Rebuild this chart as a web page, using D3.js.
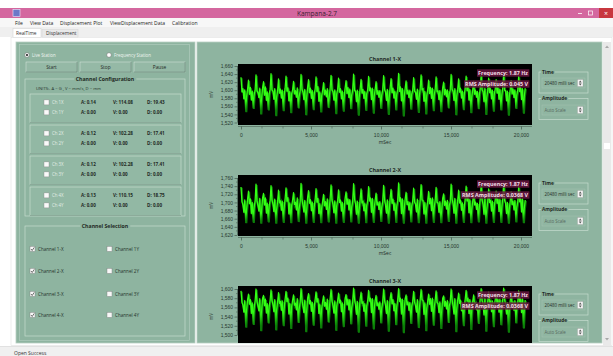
<!DOCTYPE html>
<html><head><meta charset="utf-8">
<script src="https://cdn.jsdelivr.net/npm/d3@7"></script>
<style>
html,body{margin:0;padding:0;background:#fff;overflow:hidden;}
svg{display:block;font-family:"Open Sans","Noto Sans",sans-serif;}
</style></head><body>
<svg id="app" width="613" height="356"></svg>
<script>
// ---------- data ----------
const windowTitle = "Kampana-2.7";
const menuItems = ["File", "View Data", "Displacement Plot", "ViewDisplacement Data", "Calibration"];
const tabNames = ["RealTime", "Displacement"];
const stationModes = ["Live Station", "Frequency Station"];
const controlButtons = ["Start", "Stop", "Pause"];
const unitsNote = "UNITS:-  A = G ,  V = mm/s,  D = mm";

const configChannels = ["Ch 1X", "Ch 1Y", "Ch 2X", "Ch 2Y", "Ch 3X", "Ch 3Y", "Ch 4X", "Ch 4Y"];
const accelG =       [0.14, 0.00, 0.12, 0.00, 0.12, 0.00, 0.13, 0.00];
const velocityMms =  [114.08, 0.00, 102.28, 0.00, 102.28, 0.00, 110.15, 0.00];
const displaceMm =   [19.43, 0.00, 17.41, 0.00, 17.41, 0.00, 18.75, 0.00];

const selectX = ["Channel 1-X", "Channel 2-X", "Channel 3-X", "Channel 4-X"];
const selectY = ["Channel 1Y", "Channel 2Y", "Channel 3Y", "Channel 4Y"];
const selectXChecked = [true, true, true, true];
const selectYChecked = [false, false, false, false];

const chartTitles = ["Channel 1-X", "Channel 2-X", "Channel 3-X"];
const frequencyHz = ["1.87", "1.87", "1.87"];
const rmsVolts = ["0.045", "0.0368", "0.0368"];
const timeWindow = "20480 milli sec";
const amplitudeMode = "Auto Scale";

const xTickValues = [0, 5000, 10000, 15000, 20000];
const xMinorTicks = [1500, 3000, 6500, 8000, 11500, 13000, 16500, 18000];
const yTicks1 = [1520, 1540, 1560, 1580, 1600, 1620, 1640, 1660];
const yTicks2 = [1620, 1640, 1660, 1680, 1700, 1720, 1740, 1760];
const yTicks3 = [1500, 1520, 1540, 1560, 1580, 1600];

const sampleStepMs = 67;

// Channel 1-X samples (mV)
const ch1X = [
1632,1596,1604,1579,1601,1548,1584,1603, 1625,1590,1607,1576,1598,1556,1588,1600,
1638,1599,1594,1582,1605,1542,1580,1606, 1621,1588,1608,1575,1596,1552,1590,1602,
1641,1602,1597,1578,1604,1538,1583,1599, 1628,1593,1603,1581,1600,1550,1587,1605,
1635,1598,1606,1574,1597,1545,1591,1601, 1622,1591,1599,1583,1606,1557,1585,1598,
1639,1603,1595,1577,1602,1540,1582,1607, 1626,1594,1605,1580,1599,1553,1589,1603,
1633,1597,1609,1573,1596,1547,1586,1600, 1619,1589,1600,1584,1604,1558,1581,1605,
1637,1601,1596,1576,1601,1543,1590,1602, 1630,1595,1604,1579,1598,1549,1584,1606,
1624,1592,1607,1582,1603,1555,1588,1599, 1640,1600,1598,1572,1600,1539,1583,1604,
1627,1593,1602,1580,1597,1551,1591,1601, 1634,1599,1606,1577,1605,1544,1585,1603,
1621,1590,1599,1583,1599,1556,1587,1600, 1636,1602,1596,1575,1602,1541,1582,1607,
1629,1594,1605,1581,1598,1552,1589,1602, 1642,1597,1608,1574,1604,1537,1584,1605,
1623,1591,1600,1582,1600,1554,1590,1599, 1631,1598,1595,1578,1603,1546,1583,1604,
1638,1601,1604,1573,1597,1542,1586,1601, 1625,1592,1607,1580,1605,1550,1588,1603,
1633,1596,1598,1577,1599,1548,1581,1606, 1620,1589,1602,1584,1601,1557,1591,1600,
1639,1603,1597,1575,1604,1540,1585,1602, 1628,1595,1605,1581,1598,1553,1589,1605,
1635,1599,1609,1576,1602,1545,1583,1601, 1622,1590,1600,1583,1597,1555,1587,1604,
1637,1602,1596,1572,1605,1541,1582,1599, 1630,1594,1604,1579,1600,1549,1590,1603,
1626,1593,1606,1578,1603,1552,1586,1606, 1640,1600,1599,1574,1598,1539,1584,1602,
1624,1591,1603,1582,1601,1556,1588,1600, 1634,1597,1607,1577,1604,1544,1585,1605
];

// Channel 2-X samples (mV)
const ch2X = [
1738,1702,1694,1676,1706,1651,1684,1708, 1728,1697,1709,1673,1700,1652,1688,1704,
1745,1705,1692,1679,1710,1650,1681,1711, 1722,1694,1711,1674,1698,1653,1690,1705,
1741,1707,1696,1678,1708,1650,1683,1702, 1730,1699,1704,1681,1703,1652,1687,1709,
1736,1703,1712,1672,1699,1651,1692,1706, 1724,1695,1700,1682,1711,1654,1685,1701,
1747,1708,1693,1677,1705,1650,1680,1712, 1729,1698,1707,1680,1701,1652,1689,1707,
1734,1701,1710,1673,1697,1651,1686,1703, 1720,1692,1702,1683,1709,1653,1682,1710,
1743,1706,1695,1675,1704,1650,1691,1705, 1731,1700,1706,1679,1700,1652,1684,1711,
1726,1696,1709,1682,1707,1653,1688,1702, 1746,1709,1697,1671,1703,1650,1683,1708,
1733,1699,1703,1680,1698,1651,1692,1704, 1739,1704,1711,1676,1710,1652,1685,1706,
1723,1694,1701,1683,1702,1654,1687,1701, 1742,1707,1694,1674,1706,1650,1681,1712,
1732,1698,1708,1681,1699,1652,1690,1705, 1748,1703,1712,1673,1709,1650,1684,1709,
1725,1695,1702,1682,1701,1653,1691,1703, 1735,1701,1696,1677,1708,1651,1683,1707,
1744,1706,1705,1672,1700,1650,1686,1704, 1727,1697,1710,1680,1711,1652,1688,1706,
1737,1700,1699,1676,1702,1651,1681,1710, 1721,1693,1703,1684,1705,1654,1692,1701,
1745,1709,1697,1674,1710,1650,1685,1705, 1730,1699,1706,1681,1699,1652,1689,1708,
1740,1704,1712,1675,1707,1651,1683,1703, 1724,1694,1701,1683,1698,1653,1687,1709,
1743,1707,1695,1671,1711,1650,1682,1702, 1733,1700,1705,1679,1703,1652,1690,1707,
1728,1698,1708,1678,1708,1652,1686,1711, 1746,1706,1698,1673,1700,1650,1684,1704,
1726,1695,1703,1682,1705,1653,1688,1701, 1738,1702,1710,1677,1709,1651,1685,1706
];

// Channel 3-X samples (mV)
const ch3X = [
1596,1571,1565,1550,1575,1518,1555,1577, 1589,1567,1577,1547,1570,1524,1559,1574,
1600,1574,1563,1553,1579,1510,1552,1580, 1586,1564,1578,1548,1568,1527,1561,1575,
1598,1576,1566,1551,1577,1512,1554,1572, 1592,1569,1573,1554,1574,1521,1558,1578,
1595,1573,1580,1546,1569,1515,1562,1576, 1587,1565,1569,1555,1579,1528,1556,1571,
1601,1577,1562,1549,1576,1508,1551,1580, 1590,1568,1575,1552,1571,1522,1560,1577,
1594,1572,1579,1547,1567,1516,1557,1573, 1585,1563,1571,1556,1578,1529,1553,1579,
1599,1575,1564,1548,1574,1511,1562,1575, 1591,1570,1576,1551,1570,1519,1555,1580,
1588,1566,1578,1555,1577,1525,1559,1572, 1602,1578,1566,1545,1573,1507,1554,1578,
1593,1569,1572,1552,1568,1520,1563,1574, 1597,1574,1580,1549,1579,1514,1556,1576,
1586,1564,1570,1556,1572,1527,1558,1571, 1600,1576,1565,1547,1575,1509,1552,1580,
1592,1568,1577,1553,1569,1523,1561,1576, 1601,1573,1580,1546,1578,1506,1555,1579,
1587,1566,1572,1554,1571,1526,1562,1573, 1595,1572,1564,1550,1577,1517,1553,1577,
1599,1577,1575,1545,1570,1510,1557,1574, 1589,1567,1579,1552,1580,1522,1559,1576,
1596,1571,1568,1549,1572,1515,1552,1580, 1585,1563,1573,1557,1575,1528,1563,1571,
1600,1578,1563,1546,1579,1508,1556,1576, 1591,1569,1576,1553,1569,1521,1560,1578,
1597,1574,1580,1547,1577,1513,1554,1573, 1587,1565,1570,1555,1568,1526,1558,1579,
1601,1576,1566,1544,1580,1509,1553,1572, 1593,1570,1574,1551,1574,1519,1562,1577,
1590,1568,1577,1550,1578,1523,1557,1580, 1602,1577,1567,1546,1570,1507,1555,1575,
1588,1564,1572,1554,1575,1527,1559,1571, 1596,1572,1579,1549,1579,1516,1556,1576
];

const channelSeries = [ch1X, ch2X, ch3X];
const channelYTicks = [yTicks1, yTicks2, yTicks3];

// ---------- styling ----------
const PANEL = "#8eb4a0";
const PANEL_LIGHT = "#c6dccf";
const PANEL_DARK = "#6d917e";
const TEXT = "#1f2a24";
const TRACE_BRIGHT = "#33ff14";
const TRACE_DARK = "#0b7d08";

const svg = d3.select("#app");
const defs = svg.append("defs");

// window chrome
svg.append("rect").attr("width", 613).attr("height", 356).attr("fill", "#ffffff");
svg.append("rect").attr("x", 0).attr("y", 8).attr("width", 613).attr("height", 10).attr("fill", "#d4679f");
svg.append("rect").attr("x", 13).attr("y", 9.5).attr("width", 7).attr("height", 7).attr("fill", "#6d78c8").attr("stroke", "#e8e8ff").attr("stroke-width", 0.6);
svg.append("text").attr("x", 297).attr("y", 15.8).attr("font-size", 6.5).attr("fill", "#3a2030").text(windowTitle);
svg.append("line").attr("x1", 578).attr("x2", 582).attr("y1", 13.5).attr("y2", 13.5).attr("stroke", "#fff").attr("stroke-width", 0.8);
svg.append("rect").attr("x", 588.5).attr("y", 11).attr("width", 4).attr("height", 4).attr("fill", "none").attr("stroke", "#fff").attr("stroke-width", 0.7);
svg.append("rect").attr("x", 599).attr("y", 8).attr("width", 14).attr("height", 10).attr("fill", "#c8373f");
svg.append("text").attr("x", 606).attr("y", 15.5).attr("font-size", 7).attr("text-anchor", "middle").attr("fill", "#fff").text("\u00d7");

// menu bar
svg.append("rect").attr("x", 0).attr("y", 18).attr("width", 613).attr("height", 9).attr("fill", "#f7f7f7");
const menuX = [15, 30, 60, 110, 172];
svg.selectAll("text.menu").data(menuItems).join("text").attr("class", "menu")
  .attr("x", (d, i) => menuX[i]).attr("y", 24.5).attr("font-size", 5).attr("fill", "#222").text(d => d);

// tab strip
svg.append("rect").attr("x", 0).attr("y", 27).attr("width", 613).attr("height", 10).attr("fill", "#efefef");
svg.append("rect").attr("x", 13).attr("y", 28.5).attr("width", 28).attr("height", 9).attr("fill", "#ffffff").attr("stroke", "#cfcfcf").attr("stroke-width", 0.5);
svg.append("rect").attr("x", 42).attr("y", 29.5).attr("width", 36).attr("height", 8).attr("fill", "#e9e9e9").attr("stroke", "#d4d4d4").attr("stroke-width", 0.5);
const tabX = [16, 46];
svg.selectAll("text.tab").data(tabNames).join("text").attr("class", "tab")
  .attr("x", (d, i) => tabX[i]).attr("y", 34.8).attr("font-size", 4.8).attr("fill", "#333").text(d => d);

// content frame
svg.append("rect").attr("x", 11).attr("y", 37.5).attr("width", 601).attr("height", 308).attr("fill", "#ffffff").attr("stroke", "#dadada").attr("stroke-width", 0.5);

// status bar
svg.append("rect").attr("x", 0).attr("y", 346).attr("width", 613).attr("height", 10).attr("fill", "#f0f0f0");
svg.append("line").attr("x1", 0).attr("x2", 613).attr("y1", 346.5).attr("y2", 346.5).attr("stroke", "#d6d6d6").attr("stroke-width", 0.6);
svg.append("text").attr("x", 14).attr("y", 354.5).attr("font-size", 5).attr("fill", "#333").text("Open Success");

// ---------- left control panel ----------
const left = svg.append("g");
left.append("rect").attr("x", 16).attr("y", 42).attr("width", 179).attr("height", 301).attr("fill", PANEL).attr("stroke", "#b9cfc3").attr("stroke-width", 0.8);
left.append("rect").attr("x", 19.5).attr("y", 44.5).attr("width", 170).attr("height", 296).attr("fill", "none").attr("stroke", PANEL_LIGHT).attr("stroke-width", 0.6).attr("opacity", 0.7);

// station radio buttons
const radioX = [27, 109];
stationModes.forEach((m, i) => {
  left.append("circle").attr("cx", radioX[i]).attr("cy", 55).attr("r", 2.3).attr("fill", "#fff").attr("stroke", "#6f6f6f").attr("stroke-width", 0.5);
  if (i === 0) left.append("circle").attr("cx", radioX[i]).attr("cy", 55).attr("r", 1.1).attr("fill", "#222");
  left.append("text").attr("x", radioX[i] + 5).attr("y", 56.7).attr("font-size", 4.4).attr("fill", "#eef5f0").text(m);
});

// buttons
const btnX = [26, 80, 134];
controlButtons.forEach((b, i) => {
  left.append("rect").attr("x", btnX[i]).attr("y", 62).attr("width", 51).attr("height", 10).attr("fill", "#95b9a6").attr("stroke", "#dbe8e0").attr("stroke-width", 0.5);
  left.append("line").attr("x1", btnX[i]).attr("x2", btnX[i] + 51).attr("y1", 72).attr("y2", 72).attr("stroke", "#4f6f5f").attr("stroke-width", 0.6);
  left.append("line").attr("x1", btnX[i] + 51).attr("x2", btnX[i] + 51).attr("y1", 62).attr("y2", 72).attr("stroke", "#4f6f5f").attr("stroke-width", 0.6);
  left.append("text").attr("x", btnX[i] + 25.5).attr("y", 68.8).attr("font-size", 4.8).attr("text-anchor", "middle").attr("fill", "#1e2a24").text(b);
});

function groupBox(g, x, y, w, h, label, bold) {
  g.append("rect").attr("x", x).attr("y", y).attr("width", w).attr("height", h).attr("fill", "none").attr("stroke", PANEL_LIGHT).attr("stroke-width", 0.7);
  if (label) {
    const t = g.append("text").attr("x", x + w / 2).attr("y", y + 1.8).attr("font-size", bold ? 5.2 : 4.8)
      .attr("font-weight", bold ? 700 : 400).attr("text-anchor", "middle").attr("fill", TEXT).text(label);
    const bb = t.node().getBBox();
    g.insert("rect", () => t.node()).attr("x", bb.x - 1.5).attr("y", y - 1).attr("width", bb.width + 3).attr("height", 2).attr("fill", PANEL);
  }
}

groupBox(left, 25, 79, 160, 137, "Channel Configuration", true);
left.append("text").attr("x", 36).attr("y", 90).attr("font-size", 4.2).attr("fill", "#26342c").text(unitsNote);

const subBoxY = [94, 125, 156, 187];
subBoxY.forEach((by, k) => {
  left.append("rect").attr("x", 30).attr("y", by).attr("width", 151).attr("height", 28.5).attr("fill", "#92b8a4").attr("stroke", PANEL_LIGHT).attr("stroke-width", 0.7);
  left.append("line").attr("x1", 30).attr("x2", 181).attr("y1", by + 28.5).attr("y2", by + 28.5).attr("stroke", PANEL_DARK).attr("stroke-width", 0.6);
  [0, 1].forEach(r => {
    const idx = k * 2 + r;
    const ry = by + 8.5 + r * 10;
    left.append("rect").attr("x", 44).attr("y", ry - 2.6).attr("width", 5).attr("height", 5).attr("fill", "#fafafa").attr("stroke", "#888").attr("stroke-width", 0.4);
    left.append("text").attr("x", 52).attr("y", ry + 1.6).attr("font-size", 4.4).attr("fill", "#e3eee7").text(configChannels[idx]);
    left.append("text").attr("x", 81).attr("y", ry + 1.6).attr("font-size", 4.6).attr("font-weight", 700).attr("fill", TEXT).text("A: " + accelG[idx].toFixed(2));
    left.append("text").attr("x", 113).attr("y", ry + 1.6).attr("font-size", 4.6).attr("font-weight", 700).attr("fill", TEXT).text("V: " + velocityMms[idx].toFixed(2));
    left.append("text").attr("x", 147).attr("y", ry + 1.6).attr("font-size", 4.6).attr("font-weight", 700).attr("fill", TEXT).text("D: " + displaceMm[idx].toFixed(2));
  });
});

groupBox(left, 25, 226, 160, 110, "Channel Selection", true);
const selRowY = [249, 271, 294, 315];
function checkbox(g, x, y, checked, label) {
  g.append("rect").attr("x", x).attr("y", y - 2.6).attr("width", 5).attr("height", 5).attr("fill", "#f8f8f8").attr("stroke", "#7a7a7a").attr("stroke-width", 0.4);
  if (checked) g.append("path").attr("d", `M${x + 1},${y} L${x + 2.2},${y + 1.5} L${x + 4.2},${y - 1.6}`).attr("fill", "none").attr("stroke", "#333").attr("stroke-width", 0.7);
  g.append("text").attr("x", x + 8).attr("y", y + 1.6).attr("font-size", 4.6).attr("fill", "#26342c").text(label);
}
selectX.forEach((lab, i) => checkbox(left, 30, selRowY[i], selectXChecked[i], lab));
selectY.forEach((lab, i) => checkbox(left, 107, selRowY[i], selectYChecked[i], lab));

// ---------- right chart panel ----------
const panelBottom = 343;
svg.append("rect").attr("x", 197).attr("y", 42).attr("width", 405).attr("height", 301).attr("fill", PANEL).attr("stroke", "#b9cfc3").attr("stroke-width", 0.8);
defs.append("clipPath").attr("id", "panelClip")
  .append("rect").attr("x", 197).attr("y", 42).attr("width", 405).attr("height", panelBottom - 42);
const right = svg.append("g").attr("clip-path", "url(#panelClip)");

// scrollbar
svg.append("rect").attr("x", 603).attr("y", 42).attr("width", 8).attr("height", 304).attr("fill", "#e9e9e9");
svg.append("path").attr("d", "M605,48 L607,45.5 L609,48 Z").attr("fill", "#a8a8a8");
svg.append("path").attr("d", "M605,338 L607,340.5 L609,338 Z").attr("fill", "#a8a8a8");
svg.append("rect").attr("x", 604).attr("y", 143).attr("width", 6).attr("height", 6).attr("fill", "#ffffff");

function groupBoxLeft(g, x, y, w, h, label) {
  g.append("rect").attr("x", x).attr("y", y).attr("width", w).attr("height", h).attr("fill", "none").attr("stroke", PANEL_LIGHT).attr("stroke-width", 0.7);
  const t = g.append("text").attr("x", x + 3).attr("y", y + 1.8).attr("font-size", 4.8).attr("font-weight", 700).attr("fill", TEXT).text(label);
  const bb = t.node().getBBox();
  g.insert("rect", () => t.node()).attr("x", bb.x - 1).attr("y", y - 1).attr("width", bb.width + 2).attr("height", 2).attr("fill", PANEL);
}
function spinBox(g, x, y, label, color) {
  g.append("rect").attr("x", x).attr("y", y).attr("width", 43).attr("height", 10).attr("fill", "#90b6a2").attr("stroke", "#a9c6b6").attr("stroke-width", 0.4);
  g.append("text").attr("x", x + 2.5).attr("y", y + 6.6).attr("font-size", 4.4).attr("fill", color).text(label);
  g.append("rect").attr("x", x + 35.5).attr("y", y + 1.5).attr("width", 5.5).attr("height", 7).attr("fill", "#f4f4f4").attr("stroke", "#9a9a9a").attr("stroke-width", 0.3);
  g.append("path").attr("d", `M${x + 36.8},${y + 4.4} L${x + 38.25},${y + 2.6} L${x + 39.7},${y + 4.4} Z M${x + 36.8},${y + 5.6} L${x + 38.25},${y + 7.4} L${x + 39.7},${y + 5.6} Z`).attr("fill", "#555");
}

const xScale = d3.scaleLinear().domain([0, 20000]).range([241, 521]);
const plotLeft = 238, plotRight = 532, plotH = 61;
const chartTop = [64, 175, 286];
// pixel ranges of each chart's value axis (first and last tick)
const yRanges = [[122.5, 66], [235, 178], [335, 289]];
// trace colour shades from bright (upper level) to dark green (lower level), in mV
const shadeLevels = [[1574, 1550], [1674, 1654], [1550, 1520]];

channelSeries.forEach((series, ci) => {
  const top = chartTop[ci];
  const ticks = channelYTicks[ci];
  const g = right.append("g");
  const yScale = d3.scaleLinear().domain([ticks[0], ticks[ticks.length - 1]]).range(yRanges[ci]);

  g.append("text").attr("x", 385).attr("y", top - 3.2).attr("font-size", 5.4).attr("font-weight", 700)
    .attr("text-anchor", "middle").attr("fill", TEXT).text(chartTitles[ci]);

  g.append("rect").attr("x", plotLeft).attr("y", top).attr("width", plotRight - plotLeft).attr("height", plotH).attr("fill", "#000");

  // y axis
  const yMinor = d3.range(ticks[0] + 10, ticks[ticks.length - 1], 20);
  const yAxis = d3.axisLeft(yScale).tickValues(ticks).tickFormat(d3.format(",")).tickSize(3).tickPadding(1.5);
  const ya = g.append("g").attr("transform", `translate(${plotLeft - 0.5},0)`).call(yAxis);
  ya.selectAll("text").attr("font-size", 4.9).attr("fill", "#26342c");
  ya.selectAll("line").attr("stroke", "#26342c").attr("stroke-width", 0.5);
  ya.select(".domain").attr("stroke", "#26342c").attr("stroke-width", 0.5).attr("d", `M0,${yScale(ticks[0])}V${yScale(ticks[ticks.length - 1])}`);
  g.selectAll("line.ymin").data(yMinor).join("line").attr("class", "ymin")
    .attr("x1", plotLeft - 2).attr("x2", plotLeft - 0.5).attr("y1", d => yScale(d)).attr("y2", d => yScale(d))
    .attr("stroke", "#26342c").attr("stroke-width", 0.4);

  g.append("text").attr("transform", `translate(213,${top + plotH / 2}) rotate(-90)`).attr("font-size", 4.8)
    .attr("text-anchor", "middle").attr("fill", TEXT).text("mV");

  // x axis (only where it is within the visible part of the panel)
  const axisY = top + plotH + 1.5;
  if (axisY + 20 < panelBottom) {
    const xAxis = d3.axisBottom(xScale).tickValues(xTickValues).tickFormat(d3.format(",")).tickSize(3).tickPadding(4);
    const xa = g.append("g").attr("transform", `translate(0,${axisY})`).call(xAxis);
    xa.selectAll("text").attr("font-size", 5).attr("fill", "#26342c");
    xa.selectAll("line").attr("stroke", "#26342c").attr("stroke-width", 0.5);
    xa.select(".domain").attr("stroke", "#26342c").attr("stroke-width", 0.4).attr("d", `M${plotLeft},0H${plotRight}`);
    g.selectAll("line.xmin").data(xMinorTicks).join("line").attr("class", "xmin")
      .attr("x1", d => xScale(d)).attr("x2", d => xScale(d)).attr("y1", axisY).attr("y2", axisY + 2)
      .attr("stroke", "#26342c").attr("stroke-width", 0.4);
    g.append("text").attr("x", 385).attr("y", axisY + 17.5).attr("font-size", 5).attr("text-anchor", "middle").attr("fill", TEXT).text("mSec");
  }

  // signal trace
  const pts = series.map((v, i) => [i * sampleStepMs, v]);
  const line = d3.line().x(d => xScale(d[0])).y(d => yScale(d[1]));
  const clipId = "plotClip" + ci;
  defs.append("clipPath").attr("id", clipId)
    .append("rect").attr("x", plotLeft).attr("y", top).attr("width", plotRight - plotLeft).attr("height", plotH);
  const gradId = "traceShade" + ci;
  const grad = defs.append("linearGradient").attr("id", gradId).attr("gradientUnits", "userSpaceOnUse")
    .attr("x1", 0).attr("x2", 0).attr("y1", yScale(shadeLevels[ci][0])).attr("y2", yScale(shadeLevels[ci][1]));
  grad.append("stop").attr("offset", 0).attr("stop-color", TRACE_BRIGHT);
  grad.append("stop").attr("offset", 1).attr("stop-color", TRACE_DARK);

  const tg = g.append("g").attr("clip-path", `url(#${clipId})`);
  tg.append("path").datum(pts).attr("d", line).attr("fill", "none").attr("stroke", TRACE_DARK).attr("stroke-width", 1.9)
    .attr("transform", "translate(0.7,0.9)");
  tg.append("path").datum(pts).attr("d", line).attr("fill", "none").attr("stroke", `url(#${gradId})`).attr("stroke-width", 1.25)
    .attr("stroke-linejoin", "round");

  // readouts
  const readouts = ["Frequency: " + frequencyHz[ci] + " Hz", "RMS Amplitude: " + rmsVolts[ci] + " V"];
  readouts.forEach((txt, k) => {
    const ty = top + 11 + k * 11;
    const t = g.append("text").attr("x", 528).attr("y", ty).attr("font-size", 5.4).attr("font-weight", 700)
      .attr("text-anchor", "end").attr("fill", "#f3dbe6").text(txt);
    const bb = t.node().getBBox();
    g.insert("rect", () => t.node()).attr("x", bb.x - 1).attr("y", bb.y + 0.3).attr("width", bb.width + 2).attr("height", bb.height - 0.6)
      .attr("fill", "#6a1742").attr("opacity", 0.85);
  });

  // side controls
  const boxTop = top + 8;
  groupBoxLeft(g, 539, boxTop, 49, 21, "Time");
  spinBox(g, 542, boxTop + 6, timeWindow, "#1f2a24");
  groupBoxLeft(g, 539, boxTop + 26.5, 49, 21, "Amplitude");
  spinBox(g, 542, boxTop + 33, amplitudeMode, "#55675d");
});
</script>
</body></html>
